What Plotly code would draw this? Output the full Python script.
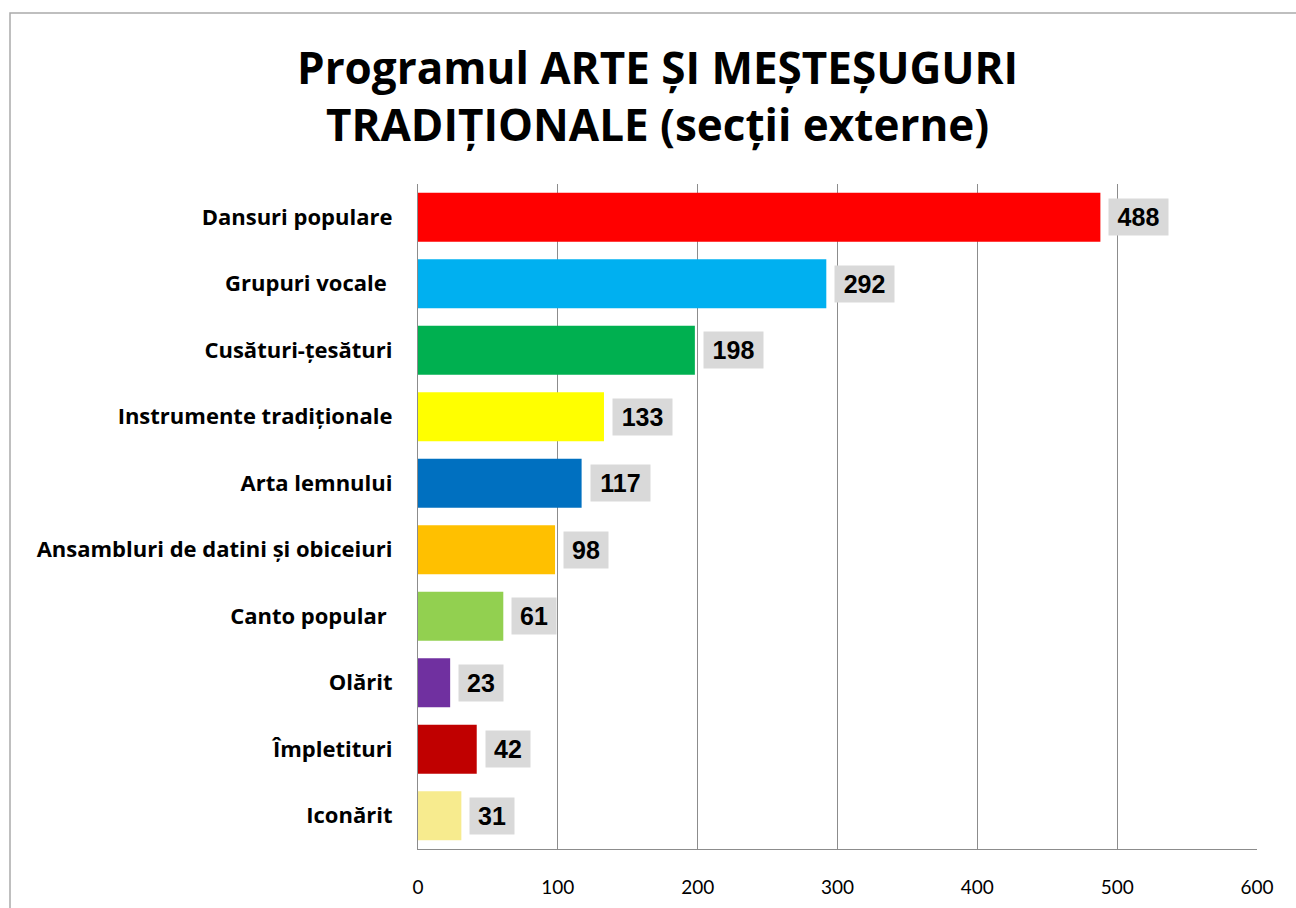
import plotly.graph_objects as go

categories = ["Dansuri populare", "Grupuri vocale\u00a0", "Cusături-țesături", "Instrumente tradiționale",
              "Arta lemnului", "Ansambluri de datini și obiceiuri", "Canto popular\u00a0", "Olărit",
              "Împletituri", "Iconărit"]
values = [488, 292, 198, 133, 117, 98, 61, 23, 42, 31]
colors = ["#FF0000", "#00B0F0", "#00B050", "#FFFF00", "#0070C0", "#FFC000", "#92D050", "#7030A0",
          "#C00000", "#F7EB8E"]
x_ticks = [0, 100, 200, 300, 400, 500, 600]

W, H = 1296, 908
L, R, T, B = 418, 39, 184, 59
pw, ph = W - L - R, H - T - B

fig = go.Figure(go.Bar(
    x=values, y=categories, orientation="h",
    marker=dict(color=colors, line=dict(width=0)),
    hoverinfo="x+y",
))

for c, v in zip(categories, values):
    n = len(str(v))
    fig.add_annotation(
        x=v, y=c, xref="x", yref="y", text=f"<b>{v}</b>", showarrow=False,
        xanchor="left", xshift=8, bgcolor="#D9D9D9", borderpad=4,
        width=15 * n + 6, align="center",
        font=dict(family="Liberation Sans, Arial", size=25, color="#000000"),
    )

# title as a paper annotation for precise placement
fig.add_annotation(
    text="<b>Programul ARTE ȘI MEȘTEȘUGURI<br>TRADIȚIONALE (secții externe)</b>",
    xref="paper", yref="paper", x=(657 - L) / pw, y=1 + (T - 95) / ph,
    xanchor="center", yanchor="middle", showarrow=False, align="center",
    font=dict(family="Open Sans", size=44, color="#000000"),
)

# outer chart border
fig.add_shape(type="rect", xref="paper", yref="paper",
              x0=(10 - L) / pw, x1=(W + 20 - L) / pw,
              y0=-(H + 20 - (T + ph)) / ph, y1=1 + (T - 13) / ph,
              line=dict(color="#ABABAB", width=1.5), fillcolor="rgba(0,0,0,0)", layer="below")

fig.update_layout(
    width=W, height=H,
    margin=dict(l=L, r=R, t=T, b=B, pad=0, autoexpand=False),
    paper_bgcolor="white", plot_bgcolor="white",
    bargap=0.26,
    showlegend=False,
    xaxis=dict(
        range=[0, 600], tickvals=x_ticks, ticktext=[str(t) for t in x_ticks],
        showgrid=True, gridcolor="#8C8C8C", gridwidth=1.3,
        showline=True, linecolor="#8C8C8C", linewidth=1.3,
        zeroline=False, ticks="", ticklabelstandoff=21, automargin=False,
        tickfont=dict(family="Lato", size=19, color="#000000"),
        fixedrange=True,
    ),
    yaxis=dict(
        categoryorder="array", categoryarray=categories, autorange="reversed",
        showline=True, linecolor="#8C8C8C", linewidth=1.3, showgrid=False,
        ticks="", ticklabelstandoff=20, automargin=False,
        tickfont=dict(family="Open Sans", size=22, color="#000000", weight="bold"),
        fixedrange=True,
    ),
)

fig.write_html("out.html", config={"displayModeBar": False},
               post_script="document.body.style.margin='0';document.body.style.overflow='hidden';")
